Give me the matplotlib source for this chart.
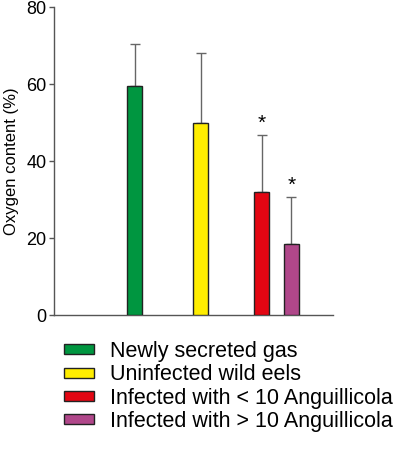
import matplotlib.pyplot as plt
import numpy as np

plt.rcParams['font.family'] = ['Liberation Sans', 'DejaVu Sans']

# data
groups = ['Newly secreted gas', 'Uninfected wild eels',
          'Infected with < 10 Anguillicola', 'Infected with > 10 Anguillicola']
oxygen = [59.6, 49.8, 31.9, 18.4]
sd = [10.8, 18.3, 14.8, 12.3]
signif = [False, False, True, True]
colors = ['#009640', '#FFED00', '#E30613', '#B0478A']

# bar positions (uneven spacing as in the original)
xpos = [1.22, 2.22, 3.14, 3.59]

fig = plt.figure(figsize=(3.97, 4.59), dpi=100)
ax = fig.add_axes([0.136, 0.3137, 0.703, 0.671])

bars = ax.bar(xpos, oxygen, width=0.23, color=colors, edgecolor='#222222',
              linewidth=1.0, zorder=3)
ax.errorbar(xpos, oxygen, yerr=[np.zeros(len(sd)), sd], fmt='none',
            ecolor='#666666', elinewidth=1.0, capsize=3.5, capthick=1.0, zorder=2)
for x, m, s, sig in zip(xpos, oxygen, sd, signif):
    if sig:
        ax.text(x, m + s + 0.6, '*', ha='center', va='bottom', fontsize=15)

ax.set_xlim(0, 4.22)
ax.set_ylim(0, 80)
ax.set_yticks([0, 20, 40, 60, 80])
ax.set_xticks([])
ax.tick_params(axis='y', direction='out', length=3.5, width=1, color='#555555',
               labelsize=13, pad=2)
for s in ['top', 'right']:
    ax.spines[s].set_visible(False)
for s in ['left', 'bottom']:
    ax.spines[s].set_color('#555555')
    ax.spines[s].set_linewidth(1.0)
ax.set_ylabel('Oxygen content (%)', fontsize=12, labelpad=5)

fig.legend(handles=list(bars), labels=groups, loc='upper left',
           bbox_to_anchor=(0.162, 0.257), frameon=False, fontsize=15.5,
           handlelength=1.4, handleheight=0.33, handletextpad=0.7,
           labelspacing=0.11, borderpad=0, borderaxespad=0)

fig.savefig('out.png', dpi=100)
